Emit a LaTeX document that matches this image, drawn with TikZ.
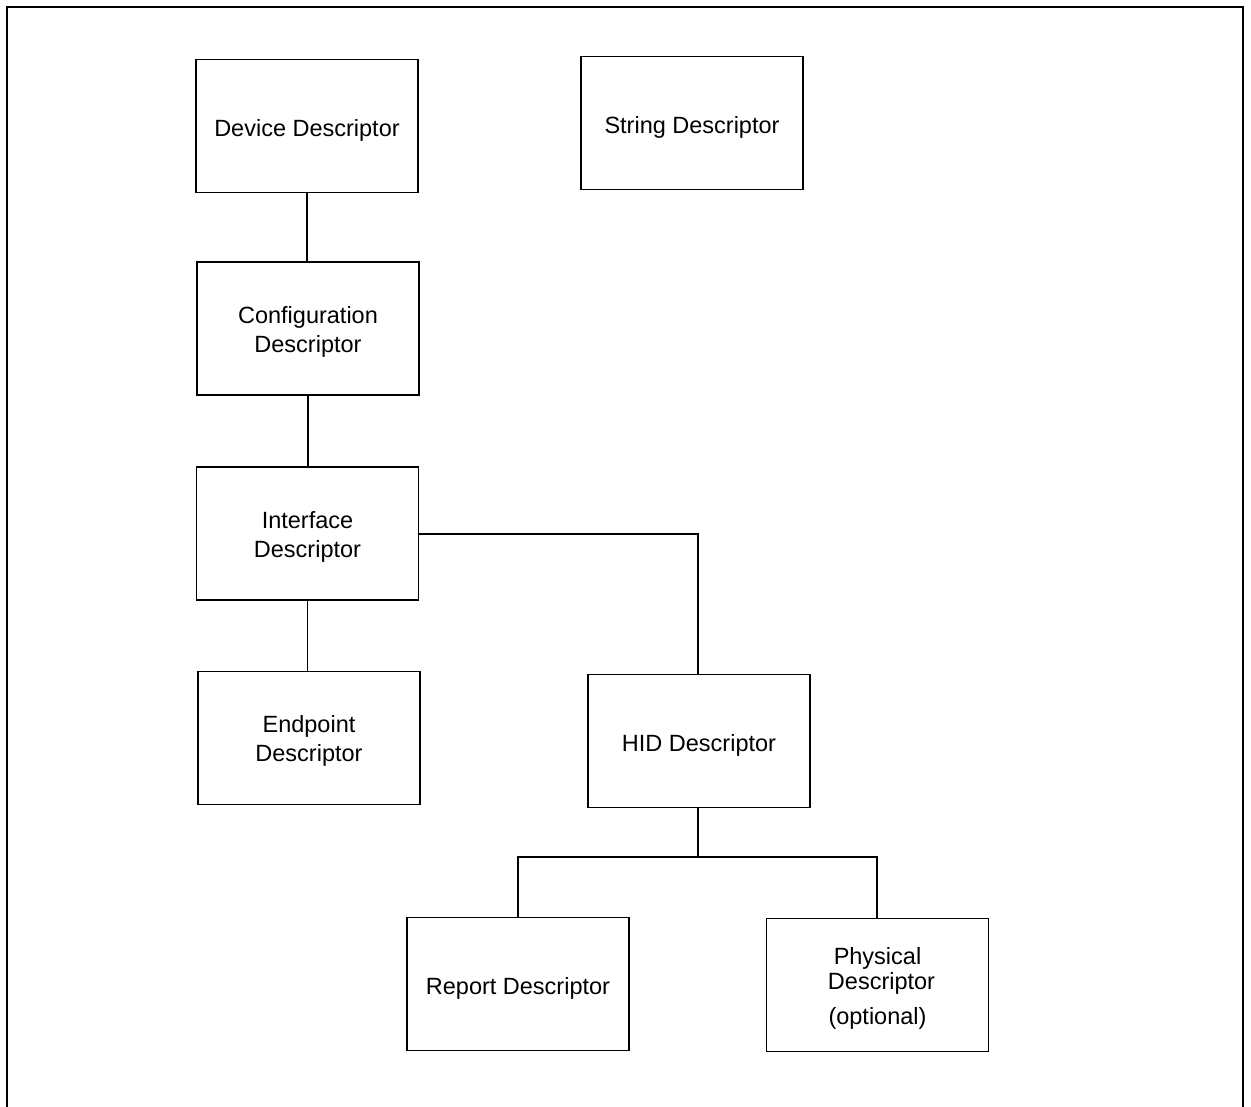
\documentclass[tikz,border=0pt]{standalone}
\usepackage{fontspec}
\setmainfont{Liberation Sans}
\begin{document}
\begin{tikzpicture}[x=1pt,y=-1pt,
  box/.style={draw,line width=1.7pt,minimum width=222pt,minimum height=133pt,inner sep=0pt},
  txt/.style={align=center,inner sep=0pt,font=\fontsize{23.5}{29}\selectfont},
  conn/.style={line width=1.7pt}]
\useasboundingbox (0,0) rectangle (1251,1107);
\draw[line width=2pt] (7,1107) -- (7,7) -- (1243,7) -- (1243,1107);
\node[box] (dev) at (307,126) {};
\node[box] (str) at (692,123) {};
\node[box] (cfg) at (308,328.5) {};
\node[box] (ifc) at (307.5,533.5) {};
\node[box] (ep) at (309,738) {};
\node[box] (hid) at (699,741) {};
\node[box] (rep) at (518,984) {};
\node[box] (phy) at (877.5,985) {};
\node[txt] (devt) at ([yshift=-4pt]dev.center) {Device Descriptor};
\node[txt] (strt) at ([yshift=-4pt]str.center) {String Descriptor};
\node[txt] (cfgt) at ([yshift=-3pt]cfg.center) {Configuration\\Descriptor};
\node[txt] (ifct) at ([yshift=-3pt]ifc.center) {Interface\\Descriptor};
\node[txt] (ept) at ([yshift=-3pt]ep.center) {Endpoint\\Descriptor};
\node[txt] (hidt) at ([yshift=-4pt]hid.center) {HID Descriptor};
\node[txt] (rept) at ([yshift=-4pt]rep.center) {Report Descriptor};
\node[txt] (phyt) at ([yshift=-3pt]phy.center) {Physical\\[-4pt]\hspace*{8pt}Descriptor\\[6pt](optional)};
\coordinate (j1) at (698,534);
\coordinate (j2) at (698,857);
\coordinate (jl) at (518,857);
\coordinate (jr) at (877,857);
\draw[conn] (dev.south) -- (cfg.north -| dev.south);
\draw[conn] (cfg.south) -- (ifc.north -| cfg.south);
\draw[conn] (ifc.south) -- (ep.north -| ifc.south);
\draw[conn] (ifc.east |- j1) -- (j1) -- (hid.north -| j1);
\draw[conn] (hid.south -| j2) -- (j2);
\draw[conn] (rep.north -| jl) -- (jl) -- (jr) -- (phy.north -| jr);
\end{tikzpicture}
\end{document}
